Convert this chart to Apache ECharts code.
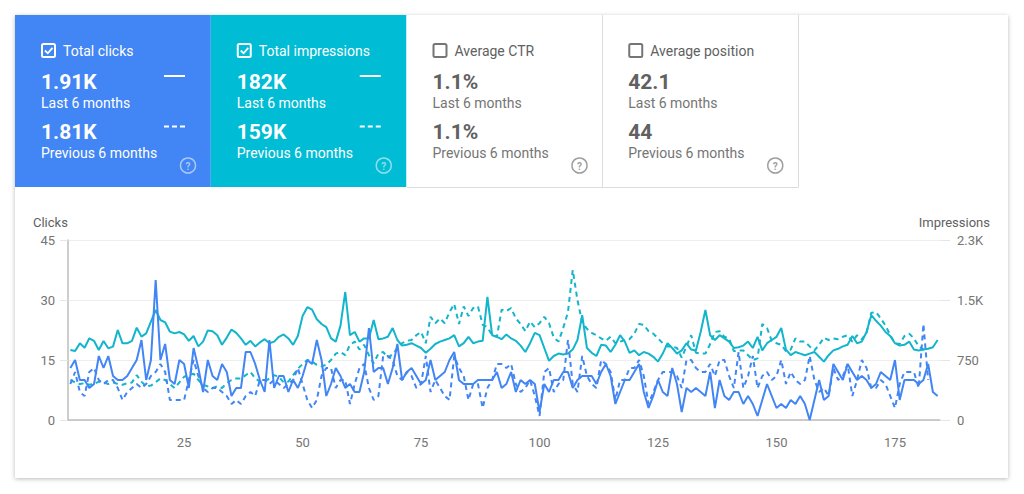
<!DOCTYPE html>
<html>
<head>
<meta charset="utf-8">
<script src="https://cdn.jsdelivr.net/npm/echarts@6/dist/echarts.min.js"></script>
<style>
html,body{margin:0;padding:0;background:#fff;}
#chart{width:1024px;height:494px;}
</style>
</head>
<body>
<div id="chart"></div>
<script>
// ---------- data ----------
const categories = Array.from({length: 184}, (_, i) => String(i + 1));

const clicksCurrent = [
  13,15,10,10,8,9,16,13,16,11,10,10,11,13,15,20,10,15,35,15,19,10,
  9,
  15,14,8,18,13,7,15,11,10,14,12,6,8,8,17,17,14,10,7,20,8,11,11,
  7,10,8,11,15,14,20,15,6,9,13,11,8,9,7,7,12,23,12,13,13,9,13,
  19,10,12,13,11,9,10,15,10,11,12,15,17,10,9,9,9,10,10,10,10,12,8,
  9,12,7,10,9,10,9,2,9,7,10,10,12,12,8,10,11,11,11,9,12,14,11,
  4,7,10,10,12,14,7,3,6,10,7,6,13,9,2,8,7,8,7,6,12,3,10,
  6,
  5,7,7,4,6,4,1,5,9,6,3,4,3,5,4,6,4,0,5,10,5,6,
  14,12,10,14,12,10,11,10,8,9,12,11,10,15,5,10,10,10,9,10,14,7,6
];

const clicksPrevious = [
  9,12,7,6,12,13,10,9,10,10,8,5,7,8,9,8,9,11,12,14,12,5,
  5,5,5,10,15,11,8,7,8,8,7,6,4,5,4,6,7,6,10,10,9,10,9,8,
  9,10,13,9,5,3,5,11,13,13,8,10,10,4,9,13,14,8,5,6,16,16,15,
  11,10,12,11,8,9,16,7,10,8,6,5,16,13,11,5,9,9,3,8,10,14,14,
  13,14,9,7,8,10,6,1,12,13,7,9,10,20,9,7,16,11,9,8,15,14,12,
  5,10,10,13,13,15,11,4,7,10,12,12,12,11,8,15,15,13,12,12,14,11,15,
  15,11,8,17,8,11,16,8,11,12,10,11,15,9,12,10,9,10,16,10,7,8,6,
  13,10,11,14,6,10,15,13,8,8,10,9,6,3,9,12,12,12,8,24,10
];

const impressionsCurrent = [
  875,862,958,904,1021,988,875,988,896,917,1125,958,958,988,1154,1042,1083,1229,1375,1250,1221,1104,1083,
  1100,1070,990,1050,920,980,1120,1110,1060,940,1030,1130,1090,1020,940,990,920,970,1010,960,980,1040,1070,
  1020,940,1050,1300,1410,1380,1260,1200,1160,1020,980,1180,1600,1060,1100,980,1020,1020,1250,1010,1020,1040,1150,
  1000,930,940,960,930,900,840,890,950,980,1000,1020,1060,920,960,1040,960,980,990,1540,1060,1040,1010,
  1070,1020,990,930,850,960,1090,1060,900,740,800,830,820,830,880,1000,1310,900,840,800,940,930,850,
  940,1060,980,840,870,810,850,830,790,730,830,960,900,830,870,960,880,870,1100,1375,1060,1000,1060,
  1020,980,900,910,930,980,900,1040,870,960,1000,1040,1150,880,810,850,830,810,830,850,790,730,810,
  870,890,920,940,1050,960,980,1100,1310,1240,1180,1100,1050,960,930,940,980,880,870,880,890,910,1000
];

const impressionsPrevious = [
  500,470,450,460,440,450,480,470,450,470,450,440,460,470,560,480,420,430,470,520,500,450,
  400,470,540,560,580,500,440,420,400,420,400,460,500,520,520,560,600,520,480,480,520,560,540,470,
  480,560,640,700,750,730,690,670,690,750,830,850,810,940,980,880,940,810,710,830,850,780,820,
  900,960,990,1000,1060,1100,960,1290,1210,1270,1210,1350,1450,1200,1420,1300,1400,1420,1190,1160,1060,1040,1380,
  1360,1400,1270,1200,1110,1230,1160,1210,1290,1210,1030,980,1150,1350,1875,1500,1220,1140,1090,1060,1020,990,1040,
  960,980,1000,1010,1080,1200,1190,1110,1080,1020,960,920,920,900,780,920,1060,840,830,830,950,1100,1110,
  1040,1020,860,870,870,810,750,770,1200,1150,990,960,940,860,880,1020,980,980,920,870,940,1030,1000,
  1020,1010,1040,1060,980,1060,1010,1090,1340,1350,1270,1180,1060,960,950,1050,1080,1020,920,880,880
];

const clickTicks = [0, 15, 30, 45];
const impressionTicks = [0, 750, 1500, 2250];

const cards = [
  {title: 'Total clicks', v1: '1.91K', v2: '1.81K', checked: true, bg: '#4285f4'},
  {title: 'Total impressions', v1: '182K', v2: '159K', checked: true, bg: '#00bcd4'},
  {title: 'Average CTR', v1: '1.1%', v2: '1.1%', checked: false, bg: '#ffffff'},
  {title: 'Average position', v1: '42.1', v2: '44', checked: false, bg: '#ffffff'}
];
const periodLabels = ['Last 6 months', 'Previous 6 months'];

// ---------- graphics ----------
const FONT = 'Roboto, "Noto Sans", sans-serif';
const graphics = [];
graphics.push({
  type: 'rect', z: -10, shape: {x: 15, y: 15, width: 993, height: 463},
  style: {fill: '#fff', shadowBlur: 4, shadowOffsetY: 1, shadowColor: 'rgba(0,0,0,0.28)'}
});
const cardW = 195.75;
cards.forEach((c, k) => {
  const x0 = 15 + k * cardW;
  const onColor = c.checked;
  const fg = onColor ? '#ffffff' : '#616161';
  const sub = onColor ? '#ffffff' : '#757575';
  graphics.push({type: 'rect', z: -5, shape: {x: x0, y: 15, width: cardW, height: 172}, style: {fill: c.bg}});
  // checkbox
  graphics.push({type: 'rect', shape: {x: x0 + 27, y: 44, width: 13, height: 13, r: 1.5},
    style: {fill: 'none', stroke: onColor ? '#fff' : '#757575', lineWidth: 2}});
  if (c.checked) {
    graphics.push({type: 'polyline', shape: {points: [[x0 + 30, 50.5], [x0 + 32.8, 53.3], [x0 + 37.5, 47.8]]},
      style: {fill: 'none', stroke: '#fff', lineWidth: 1.8}});
  }
  graphics.push({type: 'text', x: x0 + 48, y: 51, style: {text: c.title, fill: fg, font: '14px ' + FONT, textVerticalAlign: 'middle'}});
  graphics.push({type: 'text', x: x0 + 26, y: 82, style: {text: c.v1, fill: fg, font: 'bold 21px ' + FONT, textVerticalAlign: 'middle'}});
  graphics.push({type: 'text', x: x0 + 26, y: 103, style: {text: periodLabels[0], fill: sub, font: '14px ' + FONT, textVerticalAlign: 'middle'}});
  graphics.push({type: 'text', x: x0 + 26, y: 131.5, style: {text: c.v2, fill: fg, font: 'bold 21px ' + FONT, textVerticalAlign: 'middle'}});
  graphics.push({type: 'text', x: x0 + 26, y: 153, style: {text: periodLabels[1], fill: sub, font: '14px ' + FONT, textVerticalAlign: 'middle'}});
  // help icon
  const hc = onColor ? 'rgba(255,255,255,0.55)' : '#9e9e9e';
  graphics.push({type: 'circle', shape: {cx: x0 + 173, cy: 165.5, r: 7.5}, style: {fill: 'none', stroke: hc, lineWidth: 1.5}});
  graphics.push({type: 'text', x: x0 + 173, y: 166, style: {text: '?', fill: hc, font: 'bold 10px ' + FONT, textAlign: 'center', textVerticalAlign: 'middle'}});
  if (onColor) {
    graphics.push({type: 'line', shape: {x1: x0 + 149, y1: 76, x2: x0 + 170, y2: 76}, style: {stroke: '#fff', lineWidth: 2}});
    [0, 8, 16].forEach(d => {
      graphics.push({type: 'line', shape: {x1: x0 + 149 + d, y1: 126.5, x2: x0 + 154 + d, y2: 126.5}, style: {stroke: '#fff', lineWidth: 2}});
    });
  }
});
// borders of white cards
graphics.push({type: 'line', shape: {x1: 602.5, y1: 15, x2: 602.5, y2: 187}, style: {stroke: '#dadce0', lineWidth: 1}});
graphics.push({type: 'line', shape: {x1: 798.5, y1: 15, x2: 798.5, y2: 187}, style: {stroke: '#dadce0', lineWidth: 1}});
graphics.push({type: 'line', shape: {x1: 407, y1: 187.5, x2: 798.5, y2: 187.5}, style: {stroke: '#dadce0', lineWidth: 1}});
// axis titles
graphics.push({type: 'text', x: 33, y: 222, style: {text: 'Clicks', fill: '#616161', font: '13px ' + FONT, textVerticalAlign: 'middle'}});
graphics.push({type: 'text', x: 990, y: 222, style: {text: 'Impressions', fill: '#616161', font: '13px ' + FONT, textAlign: 'right', textVerticalAlign: 'middle'}});

const chart = echarts.init(document.getElementById('chart'), null, {renderer: 'svg', width: 1024, height: 494});
const CLICK = '#4285f4', IMPR = '#12b5cb';
const labelStyle = {color: '#757575', fontSize: 13, fontFamily: FONT};
chart.setOption({
  animation: false,
  backgroundColor: '#ffffff',
  graphic: graphics,
  grid: {left: 68, right: 84, top: 240, bottom: 74},
  xAxis: {
    type: 'category', data: categories, boundaryGap: true,
    axisLine: {lineStyle: {color: '#bdbdbd', width: 1.5}},
    axisTick: {show: false},
    axisLabel: Object.assign({interval: (i) => (i + 1) % 25 === 0, margin: 16}, labelStyle),
    splitLine: {show: false}
  },
  yAxis: [
    {
      type: 'value', min: clickTicks[0], max: clickTicks[clickTicks.length - 1], interval: 15, position: 'left',
      axisLine: {show: true, lineStyle: {color: '#bdbdbd', width: 1.5}},
      axisTick: {show: true, length: 8, lineStyle: {color: '#e6e6e6'}},
      axisLabel: Object.assign({margin: 13}, labelStyle),
      splitLine: {lineStyle: {color: '#eeeeee'}}
    },
    {
      type: 'value', min: impressionTicks[0], max: impressionTicks[impressionTicks.length - 1], interval: 750, position: 'right',
      axisLine: {show: false},
      axisTick: {show: true, length: 10, lineStyle: {color: '#e6e6e6'}},
      axisLabel: Object.assign({margin: 17, formatter: v => v >= 1000 ? (Math.round(v / 100) / 10) + 'K' : String(v)}, labelStyle),
      splitLine: {show: false}
    }
  ],
  series: [
    {name: 'Impressions (previous)', type: 'line', yAxisIndex: 1, data: impressionsPrevious, symbol: 'none',
      lineStyle: {color: IMPR, width: 2, type: [5, 4]}},
    {name: 'Impressions', type: 'line', yAxisIndex: 1, data: impressionsCurrent, symbol: 'none',
      lineStyle: {color: IMPR, width: 2}},
    {name: 'Clicks (previous)', type: 'line', yAxisIndex: 0, data: clicksPrevious, symbol: 'none',
      lineStyle: {color: CLICK, width: 2, type: [5, 4]}},
    {name: 'Clicks', type: 'line', yAxisIndex: 0, data: clicksCurrent, symbol: 'none',
      lineStyle: {color: CLICK, width: 2}}
  ]
});
</script>
</body>
</html>
